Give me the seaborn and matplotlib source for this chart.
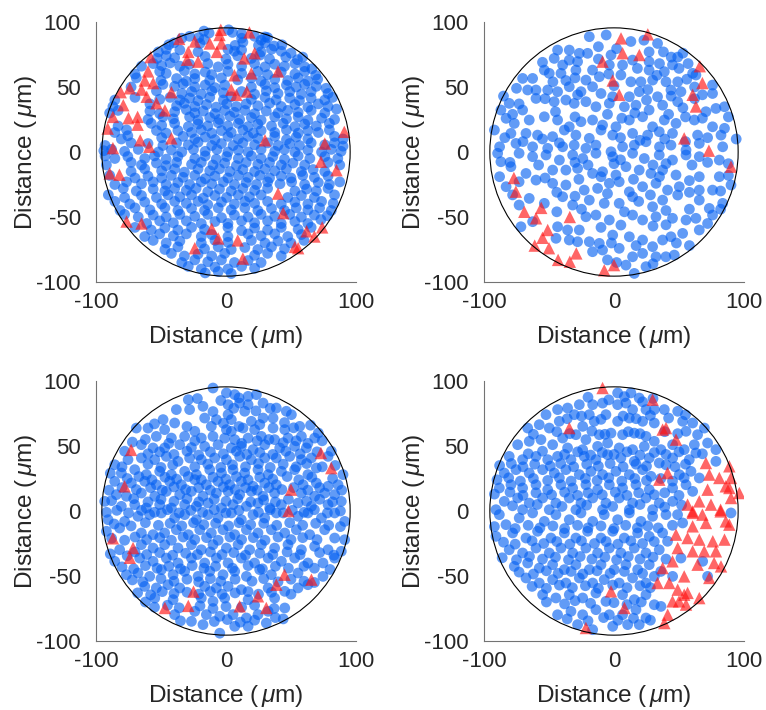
import matplotlib
matplotlib.use("Agg")
import matplotlib.pyplot as plt
import pandas as pd
import seaborn as sns
from matplotlib.patches import Circle

sns.set_theme(style="white")
plt.rcParams["font.family"] = ["Liberation Sans", "DejaVu Sans"]
plt.rcParams["mathtext.fontset"] = "custom"
plt.rcParams["mathtext.rm"] = "Liberation Sans"
plt.rcParams["mathtext.it"] = "Liberation Sans:italic"

# ---------------------------------------------------------------- data
# cell positions (x, y) in micrometres, one pair per cell
blue_a = [
    (-17,93),(-13,91.5),(2,94),(5,92),(12,91),(30,88.5),
    (-34,87.5),(-28,89),(-21,88),(-17,86.5),(12,87.5),(22,89),(27,86),(32,88),
    (-44,82.5),(-40,84),(-20,83.5),(7,82),(13,84.5),(25,82),(30,84),(37,81.5),(43,82.5),
    (-52,77),(-46,79),(-35.5,78.5),(-21.5,77),(1.5,79),(6.5,77.5),(12,78.5),(27,77),(35,79),(42.5,77.5),(50,76),
    (-53,72),(-46,74),(-39.5,72.5),(-16,73.5),(0,71.5),(9,74),(19.5,72),(26,74.5),(33.5,71.5),(46,73),(55,71),(59,73),
    (-65,66),(-56,68),(-49.5,66.5),(-43,68.5),(-35.5,66),(-28,67.5),(-14,68),(-6,65.5),(1.5,67.5),(12,66),(22,68),(30,65.5),(37.5,67.5),(45,66),(53,68),(60.5,65.5),(66,64),
    (-70,60),(-51,62),(-46,60.5),(-32,62.5),(-24,60),(-16,61.5),(-11,59.5),(1.5,62),(12,60.5),(24.5,62),(32,59.5),(42.5,61.5),(53,60),(60.5,62),(69,59),
    (-69,57),(-50,55),(-38,56.5),(-30.5,54.5),(-24,56.5),(-12.5,55),(-3.5,57),(9,55.5),(19.5,57),(27,54.5),(37.5,56),(47.5,55),(55.5,57),(63,54.5),(70.5,56),
    (-73,50),(-48.5,52),(-39.5,50.5),(-33,52.5),(-24,50),(-16,51.5),(-8.5,49.5),(-1,51.5),(19.5,50),(30,52),(37.5,49.5),(46.5,51.5),(54,50),(60.5,52),(69.5,50.5),(77,49),
    (-53.5,47),(-34,45),(-26.5,46.5),(-19,44.5),(-11,47),(-2,45.5),(12,46.5),(22,44.5),(31,47),(40,45),(49,46.5),(58,44.5),(65.5,46.5),(78.5,45),
    (-85.5,40),(-70,42),(-51,40.5),(-43,42),(-35.5,40),(-28,41.5),(-21.5,39.5),(-12.5,42),(-2,40),(4,42.5),(19.5,40.5),(30,42),(38.5,40),(49,41.5),(56.5,39.5),(65.5,41.5),(76,40),(82,42),
    (-87,35),(-58.5,37),(-38,35.5),(-32,37.5),(-24,35),(-15,36.5),(-7.5,34.5),(0.5,37),(8,35),(15.5,37),(24.5,35.5),(33.5,37.5),(42.5,35),(53,36.5),(63,34.5),(71,37),(78.5,35),(85,33),
    (-89.5,30),(-83,32),(-58.5,31.5),(-51,29.5),(-39.5,31),(-30.5,32.5),(-24,30),(-17.5,31.5),(-8.5,29.5),(-1,32),(6.5,30.5),(14.5,32),(22,29.5),(31,31.5),(40,30),(47.5,32),(55.5,30.5),(65.5,32),(76,30),
    (-60,25),(-48.5,27),(-40.5,25.5),(-28,27),(-21.5,24.5),(-12.5,26.5),(-5,25),(3,27.5),(10.5,25),(19.5,26.5),(27,24.5),(37.5,27),(46.5,25.5),(55.5,27),(63,24.5),(73.5,26),(83.5,25),
    (-83,20),(-57.5,22),(-49.5,20.5),(-39.5,22),(-29,19.5),(-21.5,21.5),(-14,20),(-6,22.5),(1.5,20),(9.5,22),(17,19.5),(24.5,21.5),(35,20),(44,22),(53,19.5),(60.5,21.5),(69.5,20),(79.5,22),
    (-85.5,15),(-76.5,17),(-53.5,16.5),(-46,14.5),(-37,16.5),(-26.5,15),(-19,17),(-11,14.5),(-3.5,16.5),(4,15),(13,17),(21,14.5),(27,16.5),(37.5,15),(46.5,17),(55.5,14.5),(63,16.5),(71,15),(79.5,17),
    (-80.5,10),(-75.5,12.5),(-49.5,11),(-33,12),(-24,10),(-16,11.5),(-8.5,9.5),(1.5,12),(9.5,10),(17,12),(24.5,10.5),(37.5,12),(46.5,9.5),(54,11.5),(63,10),(83.5,12),(90,10),
    (-93,5),(-73,7),(-60,6.5),(-48.5,5),(-38,7),(-29,5.5),(-21.5,7.5),(-11,5),(-3.5,6.5),(5.5,5),(13,7),(22,5.5),(32,7),(40,5),(49,6.5),(56.5,5),(65.5,7),(76,5.5),(83.5,7),(90,4.5),
    (-94,1),(-88,2),(-78,0.5),(-67.5,2),(-52,0),(-42,1.5),(-34,0),(-25,2),(-16,0.5),(-7,2),(1.5,0),(9.5,1.5),(17,0),(27,2),(37.5,0.5),(45,2),(53,0),(63,1.5),(73.5,0),(81,2),(88.5,0.5),
    (-93,-3),(-85.5,-5),(-75.5,-3.5),(-62.5,-5),(-55,-3),(-46,-5.5),(-37,-3.5),(-24,-5),(-16,-3),(-7.5,-5.5),(0.5,-3.5),(9.5,-5),(19.5,-3),(27,-5),(36,-3.5),(45,-5.5),(55.5,-3),(64.5,-5),(76,-3.5),(86,-5),
    (-92,-10),(-73,-8),(-65,-10),(-53.5,-8.5),(-46,-10.5),(-38,-8),(-26.5,-9.5),(-19,-8),(-10,-10),(-1,-8.5),(8,-10.5),(15.5,-8),(24.5,-9.5),(33.5,-8),(42.5,-10),(51.5,-8.5),(60.5,-10),(78.5,-8),(87.5,-10),
    (-73,-15),(-62.5,-13),(-49.5,-14.5),(-39.5,-13),(-32,-15.5),(-21.5,-13),(-12.5,-14.5),(-5,-13),(3,-15),(13,-13.5),(22,-15),(30,-13),(37.5,-14.5),(46.5,-13),(58,-15),(67,-13.5),(76,-15),
    (-89.5,-18),(-70,-20),(-60,-18.5),(-49.5,-20),(-42,-18),(-33,-19.5),(-24,-18),(-16,-20.5),(-8.5,-18.5),(1.5,-20),(9.5,-18),(17,-19.5),(26,-18),(33.5,-20),(42.5,-18.5),(50,-20),(59,-18),(68,-19.5),(78.5,-18.5),
    (-85.5,-25),(-76.5,-23),(-65,-24.5),(-56,-23),(-46,-25),(-37,-23.5),(-28,-25),(-19,-23),(-11,-24.5),(-2,-23),(6.5,-25),(15.5,-23.5),(23.5,-25),(32,-23),(41.5,-24.5),(50.5,-23),(60.5,-25),(71,-23.5),(79.5,-25),(87.5,-23),
    (-79,-28),(-69,-30),(-56,-28.5),(-47,-30),(-39.5,-28),(-30.5,-29.5),(-23,-28),(-14,-30.5),(-5,-28.5),(4,-30),(13,-28),(22,-29.5),(32,-28),(53,-30),(62,-28.5),(69.5,-30),(78.5,-28),
    (-90.5,-33),(-78,-35),(-65,-33.5),(-53.5,-35),(-44.5,-33),(-35.5,-34.5),(-26.5,-33),(-17.5,-35.5),(-8.5,-33.5),(0.5,-35),(9.5,-33),(18,-34.5),(27,-33),(47.5,-35),(58,-33.5),(68,-35),(83.5,-33),
    (-85.5,-38),(-74,-40),(-62.5,-38.5),(-49.5,-40),(-39.5,-38),(-30.5,-39.5),(-21.5,-38),(-14,-40.5),(-3.5,-38.5),(6.5,-40),(14.5,-38),(22,-39.5),(32,-38),(42.5,-40),(53,-38.5),(63,-40),(73.5,-38),(82.5,-39.5),
    (-81.5,-45),(-70,-43),(-58.5,-44.5),(-47,-43),(-37,-45),(-26.5,-43.5),(-16.5,-45),(-6,-43),(4,-44.5),(14.5,-43),(24.5,-45),(35,-43.5),(45,-45),(54,-43),(63,-44.5),(72,-43),(81,-45),
    (-78,-48),(-67.5,-50),(-56,-48.5),(-46,-50),(-35.5,-48),(-24,-49.5),(-14,-48),(-3.5,-50.5),(6.5,-48.5),(17,-50),(27,-48),(37.5,-49.5),(49,-48),(58,-50),(68,-48.5),(78,-49),
    (-61,-55),(-51,-53),(-40.5,-54.5),(-30.5,-53),(-19,-55),(-8.5,-53.5),(1.5,-55),(12,-53),(22,-54.5),(32,-53),(42.5,-55),(53,-53.5),(63,-55),(73,-52),
    (-70,-58),(-57.5,-60),(-47,-58.5),(-37,-60),(-26.5,-58),(-16.5,-59.5),(1.5,-58),(12,-60.5),(22,-58.5),(32,-60),(42.5,-58),(55.5,-59.5),(65.5,-58),
    (-62.5,-65),(-51,-63),(-40.5,-64.5),(-30.5,-63),(-19,-65),(-11,-63.5),(1.5,-65),(17,-63),(27,-64.5),(37.5,-63),(47.5,-65),(58,-63.5),
    (-56,-68),(-46,-70),(-35.5,-68.5),(-19,-70),(-8.5,-68),(1.5,-69.5),(19.5,-68),(30,-70),(40,-68.5),(50,-70),(60,-68),
    (-47,-75),(-37,-73),(-16.5,-74.5),(-6,-73),(4,-75),(14.5,-73.5),(24.5,-75),(35,-73),(45,-74.5),
    (-42,-78),(-32,-80),(-21.5,-78.5),(-11,-80),(-1,-78),(22,-79.5),(32,-78),(42.5,-80),
    (-34,-85),(-24,-83),(-14,-84.5),(-3.5,-83),(6.5,-85),(17,-83.5),(27,-85),
    (-29,-88),(-19,-90),(-8.5,-88.5),(1.5,-90),(12,-88),(22,-89.5),
    (-16,-93),(-6,-92),(4,-93.5),
]
red_a = [
    (-4,94),(-5,90),(-12.5,83.5),(-3.5,83.5),(-7,77),(-24,85),(-29,77),(-36,87),(-21.5,69.5),(-30,71),
    (18,92),(22,76),(14,72),(19.5,60.5),(40,62),(6.5,59),(4,48),(16,46.5),(8,44),
    (-60,62),(-62.5,55),(-56,53),(-65,48),(-74,49),(-81,46),(-61,42.5),(-53.5,37.5),(-47,32),
    (-79,36),(-75,26),(-68,27),(-68,21),(-87,27),(-91,18),(-42,46),(-42,10.5),(-66,9),(-59,4),
    (-87,3),(-58,73),(30,9),(76,6.5),(91,15.5),
    (-89.5,-16.5),(-82,-17.5),(-76.5,-53.5),(-65,-55),(-11,-59),(-6,-66.5),(-24,-74),(9,-68),
    (13,-82),(40,-32),(44,-47),(53,-73),(55.5,-74),(62,-61),(68,-65),(74,-58),(73,-7.5),(85,-14),
]

blue_b = [
    (-19,88.7),(-6,90),(13,85),(23,86),(33.5,83.5),(53,76),(27,77),(27,69.5),(44,73),(49,73),
    (-34.4,78.4),(-43.4,78.4),(-26.7,75.9),(-20.3,75.9),(-2.3,74.6),(14.3,70.7),(35,68),(45,67),
    (-46,72),(-34.4,70.7),(-28,69.5),(-39.5,66.9),(-29.3,63),(-16.5,63),(-3.6,66.9),(6.6,66.9),
    (18,64.3),(27,63),(38.7,61.8),(50,64.3),(60.5,60.5),
    (-62.6,56.6),(-53.6,63),(-49.8,60.5),(-40.8,60.5),(-47,54),(-37,55),(-21.6,55.3),(-11.3,57.9),
    (5.3,59.2),(13,54),(20.7,54),(29.7,55.3),(40,54),(49,54),(63,59.2),(75.8,51.5),
    (-70.3,56.6),(-66.4,47.7),(-60,47.7),(-51,47.7),(-43.4,46.4),(-34.4,50.2),(-25.4,46.4),
    (-16.5,50.2),(-10,45),(-1,42.5),(11.8,42.5),(19.4,46.4),(33.5,42.5),(43.8,47.7),(51.5,46.4),(75.8,45),
    (-80.6,37.4),(-73,37),(-60,41.2),(-46,38.7),(-37,40),(-30.6,37.4),(-21.6,38.7),(-13.9,34.8),
    (-3.6,37.4),(8,34.8),(16.9,36),(27,32.3),(37.4,36),(49,38.7),(53,34),(70.7,31),(78.4,33.5),(85,34.8),
    (-87,32.3),(-70.3,32.3),(-83,25.9),(-76.7,22),(-65.2,24.6),(-53.6,27.1),(-43.4,24.6),(-34.4,19.4),
    (-25.4,23.3),(-16.5,24.6),(-8.8,20.7),(1.5,19.4),(11.8,24.6),(22,27.1),(29.7,19.4),(38.7,24.6),
    (47.7,22),(61.8,24.6),(75.8,19.4),(85,18.2),
    (-92,16.9),(-79.3,14.3),(-67.7,14.3),(-58.8,13),(-47.2,11.8),(-38.2,16.9),(-29.3,13),(-19,10.5),
    (-10,16.9),(-1,13),(14.3,14.3),(25.9,13),(34.8,15.6),(45,14.3),(64.3,13),(82.3,13),(94,10),
    (-88,4),(-75.4,6.6),(-62.6,4),(-51,2.8),(-39.5,4),(-30.6,5.3),(-21.6,2.8),(-13.9,5.3),(-2.3,0.2),
    (6.6,4),(15.6,5.3),(24.6,7.9),(35,4),(43.8,5.3),(55.4,1.5),(65.6,6.6),(83.6,4),
    (-89.5,-1),(-87,-7.5),(-73,-1),(-62.6,-3.6),(-52.3,-2.3),(-42,-6.2),(-31.8,-2.3),(-24,-5),
    (-13.9,-1),(-1,-3.6),(14.3,-1),(23.3,-5),(34.8,-2.3),(45,-6.2),(55.4,-2.3),(65.6,-3.6),(81,-6.2),
    (-79.3,-11.3),(-67.7,-16.5),(-47.2,-13.9),(-37,-13.9),(-28,-12.6),(-16.5,-16.5),(-8.8,-15.2),
    (1.5,-17.7),(9.2,-11.3),(19.4,-13.9),(28.4,-16.5),(37.4,-13.9),(47.7,-17.7),(65.6,-19),(81,-19),(90,-25.4),
    (-83,-26.7),(-73,-22.9),(-60,-21.6),(-47.2,-24.1),(-37,-25.4),(-22.9,-29.3),(-12.6,-28),(-3.6,-24.1),
    (4,-22.9),(11.8,-30.6),(22,-26.7),(32.3,-24.1),(41.2,-29.3),(50.2,-26.7),(65.6,-29.3),(75.8,-29.3),(83.6,-39.5),
    (-73,-40.8),(-65.2,-35.7),(-53.6,-39.5),(-39.5,-34.4),(-31.8,-40.8),(-19,-37),(-7.5,-39.5),(4,-39.5),
    (14.3,-34.4),(19,-38),(29.7,-42.1),(37.4,-37),(49,-33.1),(65.6,-37),(73.3,-43.4),
    (-71.6,-57.5),(-62.6,-53.6),(-43.4,-57.5),(-35.7,-60),(-26.7,-60),(-21.6,-49.8),(-13.9,-48.5),
    (-3.6,-52.3),(5.3,-56.2),(14.3,-48.5),(22,-52.3),(32.3,-49.8),(45,-51),(55.4,-52.3),(63,-51),(65.6,-60),(75.8,-48.5),
    (-44.6,-66.4),(-34.4,-67.7),(-28,-69),(-19,-69),(-11.3,-70.3),(-1,-63.9),(4,-74.1),(11.8,-65.2),
    (22,-67.7),(29.7,-72.8),(37.4,-67.7),(43.8,-65.2),(52.8,-62.6),(58,-72),
    (-16.5,-76.7),(-8.8,-75.4),(-5,-83),(14.3,-80.6),(22,-78),(32.3,-80.6),(39.9,-80.6),(46.4,-79.3),
    (24.6,-88.2),(15.6,-93.4),(9.2,-87),
    (-12,81),(2,79.5),(38,77),(-55,69),(-12,71.5),(57,68),(-30,57),(-4,60),(33,59),(56,56),
    (-75,49),(0,51),(26,48),(62,50),(68,44),(-85,43),(-53,41),(-28,44),(25,40),(44,43),(62,41),
    (-78,29),(-45,31),(-30,27),(-5,29),(6,26),(16,30),(42,29),(55,27),(68,26),(88,27),
    (-84,11),(-70,8),(-55,10),(-42,7),(5,11),(20,9),(39,10),(55,8),(72,11),
    (-80,-8),(-58,-10),(-30,-8),(-20,-10),(0,-9),(5,-6),(30,-10),(40,-9),(60,-10),(72,-8),(88,-9),
    (-88,-19),(-53,-20),(-27,-21),(-10,-19),(15,-21),(35,-19),(58,-22),(88,-18),
    (-78,-33),(-44,-31),(-30,-34),(-5,-32),(28,-33),(58,-31),(82,-30),
    (-44,-46),(-25,-44),(8,-46),(40,-45),(58,-44),(82,-44),
    (-10,-58),(30,-57),(40,-56),(72,-55),(-2,-70),(17,-72),(48,-70),(2,-85),(30,-86),
]
red_b = [
    (5.4,87.4),(26,90.5),(6.6,76),(19.5,74.6),(-8.8,69.5),(-1,55),(4,44),(66,66),(68,53),(60.5,44),
    (63,35),(54,10.5),(73,1),(90,-11.3),(-77,-20),(-75.5,-30.5),(-69,-46),(-60,-51),(-56,-43),
    (-34,-50),(-51,-60),(-55,-66),(-61,-72),(-50,-74),(-43,-83),(-34,-84.4),(-29,-78),(-7.5,-91),(0,-87),
]

blue_c = [
    (-10,94.6),(0.3,90.8),(6.7,89.5),(17,88.2),(23.4,89.5),(-29,85.6),(-17.7,80.5),(-38.2,78),(1.6,81.8),
    (10.5,83),(17,81.8),(28.5,83),(38.7,79.2),(50.3,74.1),(46.4,76.7),(1.6,74.1),(14.4,76.7),
    (-48.4,70.3),(-39.5,67.7),(-16.4,71.5),(-7.4,70.3),(4.1,70.3),(19.5,69),(28.5,71.5),(36.2,71.5),
    (56.7,65.1),(65,66),(71,60),(-60,63.8),(-69,63.8),(-47.2,62.6),(-24,61.3),(-11.3,65.1),(0.3,62.6),
    (13.1,63.8),(22,62.6),(36.2,63.8),(45.2,62.6),
    (-53.6,57.4),(-42,56.1),(-31.8,57.4),(-19,56.1),(-10,57.4),(4.1,61.3),(6.7,54.9),(17,56.1),(27.2,57.4),
    (37.4,54.9),(47.7,56.1),(58,57.4),(68.2,56.1),(-65.1,51),(-56.1,48.5),(-47.2,48.5),(-35.6,51),
    (-26.6,48.8),(-16.4,49.7),(-6.1,51),(4.1,48.5),(11.8,49.7),(20.8,47.2),(29.8,51),(41.3,48.5),
    (52.8,49.7),(61.8,48.5),(81,46),
    (-85.6,35.6),(-75.4,39.5),(-65.1,40.8),(-54.8,39.5),(-45.9,42),(-36.9,38.2),(-28,40.8),(-19,39.5),
    (-8.7,40.8),(0.3,39.5),(10.5,42),(19.5,39.5),(29.8,40.8),(38.7,40.8),(49,42),(58,39.5),(65.7,40.8),(78.5,42),
    (-89,29),(-80.5,29.2),(-70.2,31.8),(-61.3,28),(-51,30.5),(-42,28),(-31.8,30.5),(-22.8,28),(-12.5,31.8),
    (-3.5,29.2),(5.4,31.8),(14.4,29.2),(24.6,31.8),(32.4,28),(42.6,30.5),(52.8,31.8),(63,28),(69.5,33.1),(90,28),
    (-85.6,22.8),(-72.8,21.5),(-62.5,22.8),(-53.6,20.2),(-43.3,22.8),(-34.3,20.2),(-24,24.1),(-15.1,20.2),
    (-6.1,22.8),(2.8,20.2),(11.8,22.8),(20.8,19),(29.8,21.5),(38.7,20.2),(59.3,20.2),(69.5,21.5),(78.5,19),(86.2,20.2),
    (-93.3,7.4),(-84.3,12.6),(-76.6,11.3),(-65.1,13.8),(-54.8,11.3),(-45.9,15.1),(-35.6,12.6),(-26.6,15.1),
    (-17.7,11.3),(-7.4,13.8),(1.6,15.1),(10.5,12.6),(19.5,15.1),(28.5,11.3),(37.4,13.8),(58,13.8),
    (68.2,11.3),(75.9,13.8),(83.6,12.6),
    (-80.5,3.6),(-70.2,4.9),(-61.3,2.3),(-51,4.9),(-42,2.3),(-31.8,4.9),(-22.8,3.6),(-13.8,6.1),(-3.5,2.3),
    (5.4,4.9),(15.7,3.6),(24.6,6.1),(33.6,2.3),(42.6,4.9),(55.4,6.1),(65.7,3.6),(78.5,4.9),(88.7,7.4),
    (-90.7,-6.7),(-78,-8),(-67.7,-4.1),(-58.7,-2.8),(-49.7,-1.5),(-39.5,-5.4),(-31.8,-2.8),(-22.8,-6.7),
    (-13.8,-2.8),(-6.1,-5.4),(4.1,-1.5),(11.8,-6.7),(20.8,-2.8),(29.8,-5.4),(38.7,-1.5),(55.4,-4.1),
    (63,-1.5),(73.4,-5.4),(83.6,-1.5),(91.3,-8),
    (-92,-15.6),(-81.8,-13.1),(-65.1,-16.9),(-56.1,-18.2),(-47.2,-16.9),(-38.2,-14.4),(-29,-18.2),(-20.2,-14.4),
    (-11.3,-16.9),(-2.3,-14.4),(6.7,-18.2),(15.7,-14.4),(24.6,-16.9),(34.9,-14.4),(45.2,-16.9),(54.1,-14.4),
    (64.4,-18.2),(75.9,-14.4),(83.6,-20.8),(91.3,-22.1),
    (-81.8,-29.8),(-65.1,-25.9),(-56.1,-28.5),(-47.2,-25.9),(-36.9,-28.5),(-26.6,-25.9),(-19,-29.8),(-10,-25.9),
    (0.3,-28.5),(9.3,-25.9),(18.2,-29.8),(27.2,-25.9),(37.4,-28.5),(47.7,-25.9),(58,-29.8),(68.2,-27.2),
    (78.5,-29.8),(88.7,-31),
    (-85.6,-38.7),(-66.4,-36.2),(-56.1,-38.7),(-45.9,-36.2),(-36.9,-40),(-26.6,-36.2),(-16.4,-40),(-7.4,-36.2),
    (1.6,-40),(11.8,-36.2),(22,-40),(32.4,-36.2),(42.6,-38.7),(52.8,-36.2),(63,-40),(74.6,-40),(83.6,-36.2),
    (-76.6,-49),(-67.7,-47.7),(-58.7,-50.3),(-49.7,-45.1),(-40.7,-49),(-31.8,-46.4),(-21.5,-50.3),(-12.5,-46.4),
    (-2.3,-49),(6.7,-46.4),(15.7,-50.3),(25.9,-45.1),(34.9,-49),(55.4,-47.7),(74.6,-50.3),
    (-62.5,-58),(-53.6,-59.2),(-44.6,-56.7),(-35.6,-59.2),(-16.4,-58),(-7.4,-59.2),(1.6,-58),(11.8,-60.5),
    (32.4,-59.2),(45.2,-61.8),(55.4,-59.2),(63,-56.7),
    (-62,-70),(-54.8,-67),(-40.7,-68.2),(-19,-67),(-10,-69.5),(-1,-67),(17,-68.2),(37.4,-67),(45.2,-74.6),
    (-39.5,-79.7),(-24,-77.2),(-15.1,-79.7),(-4.8,-81),(5.4,-79.7),(15.7,-82.3),(24.6,-79.7),(32.4,-77.2),
    (-26.6,-84.9),(-17.7,-87.4),(-4.8,-94),(6.7,-88.7),(17,-88.7),(31,-86.2),(44,-83),
    (-22,86.5),(-4,85),(10,87),(-28,78),(-10,76.5),(6,79),(23,77),(34,79),
    (-55,67),(-30,65),(-2,67.5),(10,65),(26,66.5),(45,68),(52,64),
    (-72,53),(-62,55),(-44,52),(-24,54),(-1,56),(12,52),(24,54),(33,55),(44,52.5),(54,54),(63,52),(74,54),
    (-78,46),(-60,44),(-51,45.5),(-40,43.5),(-30,46),(-21,43),(-12,45.5),(-2,44),(8,46),(16,43.5),(26,45),(36,43.5),(46,46),(57,44),(70,45.5),
    (-80,34),(-60,36),(-50,33.5),(-41,35.5),(-24,34),(-14,36),(-4,33.5),(5,35.5),(15,34),(25,36.5),(34,33.5),(44,36),(54,34),(62,36.5),(74,34),(84,35),
    (-76,25),(-67,26.5),(-57,24),(-47,26),(-38,24.5),(-29,26.5),(-19,24),(-10,26),(0,24.5),(8,26.5),(17,24),(26,26),(36,24.5),(47,26.5),(56,24),(66,26),(82,25),
    (-90,16),(-80,18),(-69,16.5),(-58,18),(-49,16),(-40,18.5),(-31,16.5),(-21,18),(-12,16),(-2,18.5),(7,16.5),(15,18),(24,16),(33,18),(43,16.5),(52,18),(63,16),(72,18),(89,16),
    (-88,8),(-71,9.5),(-60,7),(-50,9),(-40,7.5),(-30,9.5),(-21,7),(-9,9),(0,7.5),(9,9.5),(19,7),(29,8.5),(38,7),(48,9),(62,7.5),(72,9),(82,7),
    (-92,-1),(-84,0.5),(-75,-1.5),(-65,0.5),(-55,-1),(-45,1),(-36,-1.5),(-27,0.5),(-18,-1),(-9,1),(0,-1.5),(10,0.5),(25,-1),(34,1),(44,-1.5),(51,0.5),(60,-1),(68,1),(78,-1.5),(88,0),
    (-86,-10),(-73,-11.5),(-62,-9),(-52,-11),(-43,-9.5),(-34,-11.5),(-25,-9),(-17,-10.5),(-8,-9.5),(2,-11.5),(10,-9),(19,-10.5),(29,-9.5),(39,-11),(49,-9),(59,-11),(69,-9.5),(79,-11),(88,-12),
    (-88,-21),(-78,-22.5),(-70,-20),(-61,-22),(-51,-20.5),(-42,-22.5),(-33,-20),(-24,-22),(-15,-20.5),(-6,-22.5),(3,-20),(12,-22),(21,-20.5),(30,-22.5),(40,-20),(50,-22),(59,-20.5),(70,-22),
    (-89,-33),(-76,-34.5),(-70,-31.5),(-61,-33.5),(-51,-32),(-41,-34),(-31,-32.5),(-22,-33.5),(-12,-31.5),(-3,-33.5),(6,-32),(15,-34),(26,-32.5),(36,-33.5),(47,-31.5),(57,-33.5),(72,-32),(83,-34),
    (-80,-43),(-71,-44.5),(-62,-42),(-53,-44),(-44,-42.5),(-35,-44.5),(-26,-42),(-17,-44),(-8,-42.5),(5,-44),(17,-42),(28,-44.5),(38,-42.5),(48,-44),(60,-42.5),(68,-44),(80,-45),
    (-72,-53),(-64,-54.5),(-50,-52),(-40,-54),(-30,-52.5),(-21,-54.5),(-12,-52),(-4,-54),(7,-52.5),(20,-54),(29,-52),(40,-54.5),(50,-52.5),(60,-54),(68,-55),
    (-68,-63),(-58,-64.5),(-49,-62),(-40,-63.5),(-30,-62.5),(-21,-64),(-12,-62),(-3,-64),(7,-63),(17,-62),(25,-64),(35,-62.5),(50,-64),
    (-55,-74),(-45,-72.5),(-36,-74.5),(-20,-73),(-10,-75),(0,-73.5),(12,-74),(22,-72.5),(37,-75),
    (-35,-84.5),(-9,-85),(1,-83.5),(11,-85.5),(22,-84),(38,-82),
]
red_c = [
    (-73,47),(-78,19),(73,44.6),(81,33),(50,16.4),(48,0),(-87,-21),(-71.5,-28.5),(-74,-36),(-25,-62),
    (-29,-73),(-47,-74.6),(10.5,-73.3),(24.6,-65.6),(31,-74.6),(38.7,-56.7),(45,-49),(65.7,-52.8),
]

blue_d = [
    (2.8,90.8),(13,90.8),(9.2,83),(19.4,86.9),(24.6,78),(14.3,78),(2.8,81.8),(-8.8,83),(-16.4,81.8),
    (-26.7,81.8),(-19,74.1),(-35.7,79.2),(-43.4,78),(-30.5,74.1),(-42.1,69),(-52.3,74.1),(-66.4,63.8),
    (-57.5,66.4),(-49.8,63.8),(-24.1,65.1),(-15.2,69),(-6.2,74.1),(2.8,69),(11.8,71.5),(22,69),(31,78),
    (38.7,78),(49,76.7),(55,74),(52.8,69),(60.5,67.7),(69.5,63.8),(64.3,58.7),(55.4,61.3),(31,67.7),
    (-39.5,56.1),(-29.3,58.7),(-21.6,54.9),(-11.3,58.7),(-2.3,59.9),(6.6,58.7),(15.6,59.9),(24.6,57.4),
    (31,53.6),(45.1,51),(61.8,51),(72,52.3),(78.4,47.2),(-74.1,51),(-65.2,53.6),(-56.2,54.9),(-47.2,51),
    (-35.7,48.5),(-24.1,47.2),(-12.6,49.7),(-4.9,52.3),(4,48.5),(14.3,47.2),(23.3,49.7),(36.1,47.2),(54,47.2),(63,44.6),
    (-80.6,42),(-70.3,39.5),(-60,42),(-51,39.5),(-43.4,42),(-33.1,39.5),(-22.9,42),(-13.9,39.5),(-4.9,43.3),
    (5.3,40.8),(15.6,38.2),(27.1,40.8),(34.8,36.9),(45.1,40.8),(57.9,39.5),(78.4,38.2),
    (-84.4,29.2),(-75.4,31.8),(-65.2,29.2),(-54.9,31.8),(-45.9,29.2),(-37,31.8),(-26.7,28),(-17.7,30.5),
    (-8.8,28),(1.5,30.5),(11.8,28),(22,31.8),(28.4,26.7),(50.2,28),(59.2,30.5),(65.6,25.4),
    (-88.2,17.7),(-79.3,20.2),(-70.3,17.7),(-60,20.2),(-51,16.4),(-40.8,20.2),(-31.8,17.7),(-21.6,20.2),
    (-12.6,16.4),(-3.6,20.2),(6.6,17.7),(16.9,20.2),(27.1,16.4),(45.1,17.7),(55.4,20.2),(60.5,15.1),
    (-84.4,7.4),(-74.1,10),(-65.2,6.1),(-54.9,10),(-44.7,6.1),(-34.4,10),(-25.4,6.1),(-16.4,10),(-6.2,6.1),
    (4,10),(14.3,6.1),(24.6,10),(34.8,6.1),(45.1,7.4),(-90.8,1),(-70.3,1),(-49.8,1),(-29.3,1),(-8.8,1),(11.8,1),(29.7,1),
    (-88.2,-2.8),(-83.1,-10.5),(-72.9,-5.4),(-62.6,-1.5),(-53.6,-8),(-44.7,-2.8),(-34.4,-6.7),(-25.4,-1.5),
    (-16.4,-8),(-7.5,-2.8),(2.8,-6.7),(11.8,-1.5),(20.7,-8),(29.7,-4.1),(40,-2.8),(48.9,-2.8),(90,-1.5),
    (-90.8,-19.5),(-78,-16.9),(-67.7,-20.8),(-58.8,-15.6),(-48.5,-20.8),(-38.2,-16.9),(-29.3,-20.8),(-20.3,-15.6),
    (-10,-20.8),(-1,-15.6),(7.9,-20.8),(18.2,-16.9),(27.1,-19.5),(37.4,-16.9),(41.2,-23.3),(52.8,-9.2),
    (-80.6,-29.8),(-70.3,-32.3),(-60,-28.5),(-49.8,-32.3),(-40.8,-28.5),(-31.8,-32.3),(-21.6,-28.5),(-12.6,-32.3),
    (-3.6,-28.5),(5.3,-32.3),(15.6,-28.5),(24.6,-32.3),(34.8,-29.8),(51.5,-36.2),(68.2,-38.7),
    (-76.7,-42.6),(-66.4,-40),(-57.5,-43.9),(-47.2,-41.3),(-38.2,-45.1),(-29.3,-41.3),(-19,-45.1),(-10,-41.3),
    (0.2,-45.1),(9.2,-41.3),(18.2,-45.1),(27.1,-41.3),(45.1,-50.3),(72,-50.3),
    (-67.7,-51.5),(-57.5,-55.4),(-47.2,-52.8),(-37,-55.4),(-26.7,-51.5),(-16.4,-55.4),(-7.5,-52.8),(4,-55.4),
    (14.3,-51.5),(24.6,-55.4),(31,-50.3),
    (-54.9,-64.4),(-44.7,-66.9),(-34.4,-64.4),(-24.1,-66.9),(-13.9,-63.1),(-6.2,-69.5),(6.6,-64.4),(15.6,-68.2),
    (24.6,-64.4),(31,-72.1),(36.1,-73.4),
    (-43.4,-79.8),(-33.1,-77.2),(-24.1,-79.8),(-13.9,-75.9),(-3.6,-79.8),(6.6,-79.8),(16.9,-75.9),(24.6,-82.3),
    (-28,-87.4),(-16.4,-91.3),(-1,-88.7),(10.5,-87.4),(19.4,-87.4),
    (-20,87.5),(-4,85.5),(8,88),(22,84),(30,86.5),
    (-36,71),(-25,73),(-10,70.5),(7,73),(17,71),(28,73.5),(42,71.5),
    (-62,59),(-44,61),(-34,59.5),(-17,61.5),(-7,59),(11,61),(20,59.5),(39,61),(49,59.5),
    (-66,44),(-55,46),(-38,43.5),(-28,45.5),(-18,43),(-9,45),(0,43.5),(10,45.5),(20,43),(31,45),(40,43.5),(50,45.5),(68,44),
    (-88,35),(-79,36.5),(-70,34),(-61,36),(-49,34.5),(-41,36.5),(-31,34),(-21,36),(-12,34.5),(-3,36.5),(7,34),(17,36),(25,34.5),(40,35.5),(47,34),(55,36),
    (-90,24),(-81,25.5),(-72,23),(-62,25),(-51,23.5),(-42,25.5),(-33,23),(-22,25),(-13,23.5),(-4,25.5),(6,23),(16,25),(25,23.5),(36,25),(45,23),(54,25.5),
    (-92,13),(-80,14.5),(-70,12),(-60,14),(-48,12.5),(-38,14.5),(-28,12),(-20,14),(-9,12.5),(1,14.5),(10,12),(19,14),(31,12.5),(39,14),(50,12),
    (-78,4),(-59,5),(-40,3.5),(-21,4.5),(-1,3.5),(20,5),(39,3),(52,4.5),
    (-92,-12),(-76,-13.5),(-66,-11),(-57,-13),(-47,-11.5),(-38,-13.5),(-28,-11),(-20,-13),(-10,-11.5),(0,-13.5),(9,-11),(18,-13),(26,-11.5),(34,-13),(45,-11),
    (-85,-24),(-76,-25.5),(-63,-23),(-54,-25),(-44,-23.5),(-34,-25.5),(-25,-23),(-15,-25),(-6,-23.5),(3,-25.5),(13,-23),(22,-25),(31,-23.5),
    (-86,-36),(-75,-37.5),(-65,-35),(-55,-37),(-45,-35.5),(-35,-37.5),(-26,-35),(-17,-37),(-7,-35.5),(2,-37.5),(11,-35),(20,-37),(30,-35.5),(40,-37),
    (-73,-47),(-62,-48.5),(-52,-46),(-43,-48),(-33,-46.5),(-24,-48.5),(-13,-46),(-3,-48),(8,-46.5),(22,-48),(36,-46.5),
    (-63,-58),(-52,-59.5),(-42,-57),(-32,-59),(-22,-57.5),(-12,-59.5),(-1,-57),(10,-59),(20,-57.5),(28,-59),
    (-52,-70),(-38,-71.5),(-30,-69),(-18,-71),(0,-70.5),(10,-72),(21,-70),
    (-36,-83),(-20,-84.5),(-8,-82),(3,-84),(15,-82.5),(28,-84),
]
red_d = [
    (-8.8,94.6),(29.7,85.6),(-34.4,63.8),(40,63.8),(37.4,62.6),(47.7,54.9),(70.7,36.9),(88.7,34.4),
    (41.2,29.2),(34.8,24.1),(73.3,28),(81,25.4),(90,25.4),(86,19),(72,16.4),(88.7,17.7),(96.4,13.8),
    (65.6,7.4),(56.6,4.9),(74.6,4.9),(90,10),(82,1),(60.5,-0.3),
    (60.5,-1.5),(68,-2.8),(82,-0.3),(70.7,-9.2),(86,-8),(88.7,-10.5),(60.5,-11.8),(47.7,-18.2),
    (56.6,-20.8),(65.6,-22),(76,-23.3),(85,-22),(49,-28.5),(60.5,-31),(69.4,-31),(78.4,-31),
    (45,-38.7),(64.3,-41.3),(77,-40),(82.3,-42.6),(37.4,-43.9),(54,-50.3),(73.3,-51.5),(33.5,-55.4),
    (42.5,-55.4),(-2.3,-61.8),(49,-60.5),(54,-64.4),(56.6,-63),(65.6,-67),(45,-69.5),(50,-69.5),
    (55.4,-72),(41.3,-79.8),(38.7,-86.2),(8,-74.6),(-21.6,-90),
]

panels = [(blue_a, red_a), (blue_b, red_b), (blue_c, red_c), (blue_d, red_d)]
ticks_x = [-100, 0, 100]
ticks_y = [-100, -50, 0, 50, 100]
ring_radius = 95.5

# ---------------------------------------------------------------- layout
W, H = 766, 710
fig = plt.figure(figsize=(W / 100, H / 100), dpi=100)
boxes = [(96, 22), (484, 22), (96, 381), (484, 381)]  # top-left corner of each plot box in px
box_w, box_h = 260, 260

BLUE = "#0561f2"
RED = "#ff1414"
label = r"Distance ($\,\mu$m)"

for (bx, by), (blue, red) in zip(boxes, panels):
    ax = fig.add_axes([bx / W, 1 - (by + box_h) / H, box_w / W, box_h / H])
    dfb = pd.DataFrame(blue, columns=["x", "y"])
    dfr = pd.DataFrame(red, columns=["x", "y"])
    sns.scatterplot(data=dfb, x="x", y="y", ax=ax, s=60, color=BLUE, alpha=0.63,
                    linewidth=0, edgecolor="none", zorder=2)
    sns.scatterplot(data=dfr, x="x", y="y", ax=ax, s=80, marker="^", color=RED, alpha=0.65,
                    linewidth=0, edgecolor="none", zorder=3)
    ax.add_patch(Circle((0, 0), ring_radius, fill=False, ec="black", lw=0.8, zorder=4))
    ax.set_xlim(-100, 100)
    ax.set_ylim(-100, 100)
    ax.set_xticks(ticks_x)
    ax.set_yticks(ticks_y)
    ax.set_xticklabels([str(t) for t in ticks_x])
    ax.set_yticklabels([str(t) for t in ticks_y])
    ax.set_xlabel(label, fontsize=17.6, color="0.15", labelpad=8)
    ax.set_ylabel(label, fontsize=17.6, color="0.15", labelpad=-2)
    for side in ("top", "right"):
        ax.spines[side].set_visible(False)
    for side in ("left", "bottom"):
        ax.spines[side].set_color("0.45")
        ax.spines[side].set_linewidth(0.8)
    ax.tick_params(axis="x", direction="in", length=4, width=0.8, color="0.45",
                   labelsize=16, labelcolor="0.15", pad=7)
    ax.tick_params(axis="y", direction="in", length=4, width=0.8, color="0.45",
                   labelsize=16, labelcolor="0.15", pad=11)
    ax.set_facecolor("white")

fig.savefig("out.png", dpi=100, facecolor="white")
